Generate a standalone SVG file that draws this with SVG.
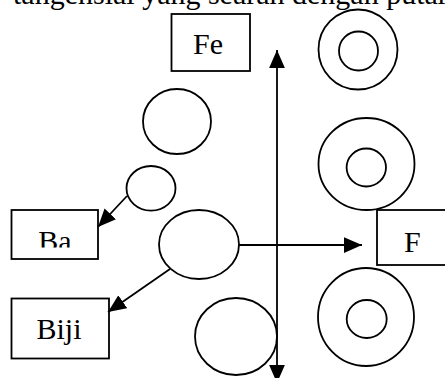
<svg xmlns="http://www.w3.org/2000/svg" width="445" height="378" viewBox="0 0 445 378">
<style>
.s{fill:none;stroke:#000;stroke-width:1.8}
.b{fill:#fff;stroke:#000;stroke-width:1.8}
.t{font-family:"Liberation Serif","Times New Roman",serif;font-size:30px;fill:#000}
.c{stroke:#000;stroke-width:1.8;fill:none}
</style>
<defs>
<marker id="ah" markerUnits="userSpaceOnUse" markerWidth="18" markerHeight="16" viewBox="0 0 16 14" refX="16" refY="7" orient="auto-start-reverse">
<polygon points="0,0 16,7 0,14" fill="#000"/>
</marker>
<clipPath id="baclip"><rect x="0" y="200" width="120" height="47.5"/></clipPath>
</defs>
<rect width="445" height="378" fill="#fff"/>
<text class="t" x="13" y="4">tangensial yang searah dengan putaran</text>
<g id="fe"><rect class="b" x="171.5" y="14" width="78.5" height="57"/><text class="t" x="208" y="54" text-anchor="middle">Fe</text></g>
<g id="ring-top"><ellipse class="s" cx="358" cy="49.5" rx="39.5" ry="40"/><circle class="s" cx="358.5" cy="51" r="19.5"/></g>
<g id="circle-a"><ellipse class="s" cx="177" cy="121.5" rx="34" ry="32.5"/></g>
<g id="ring-mid"><ellipse class="s" cx="366.5" cy="164" rx="48" ry="46"/><ellipse class="s" cx="366.3" cy="167.5" rx="19.7" ry="19"/></g>
<g id="circle-small"><ellipse class="s" cx="151" cy="188.3" rx="24.5" ry="22.3"/></g>
<g id="ba"><rect class="b" x="11.5" y="210" width="86.5" height="49"/><text class="t" x="55" y="250.5" text-anchor="middle" clip-path="url(#baclip)">Ba</text></g>
<g id="circle-big"><ellipse class="s" cx="199" cy="244.5" rx="40" ry="34.5"/></g>
<g id="f"><rect class="b" x="377" y="210" width="80" height="55"/><text class="t" x="404" y="252">F</text></g>
<g id="biji"><rect class="b" x="11.5" y="298.5" width="97.5" height="60"/><text class="t" x="59" y="338.5" text-anchor="middle">Biji</text></g>
<g id="circle-bottom"><ellipse class="s" cx="236" cy="336.5" rx="41" ry="38.5"/></g>
<g id="ring-bottom"><ellipse class="s" cx="366" cy="317" rx="48" ry="49"/><ellipse class="s" cx="366.7" cy="319" rx="20" ry="19"/></g>
<g id="connectors">
<line class="c" x1="277" y1="383" x2="277" y2="50" marker-start="url(#ah)" marker-end="url(#ah)"/>
<line class="c" x1="127" y1="196" x2="98" y2="227" marker-end="url(#ah)"/>
<line class="c" x1="170" y1="269" x2="108" y2="312" marker-end="url(#ah)"/>
<line class="c" x1="239" y1="245" x2="362" y2="245" marker-end="url(#ah)"/>
</g>
</svg>
